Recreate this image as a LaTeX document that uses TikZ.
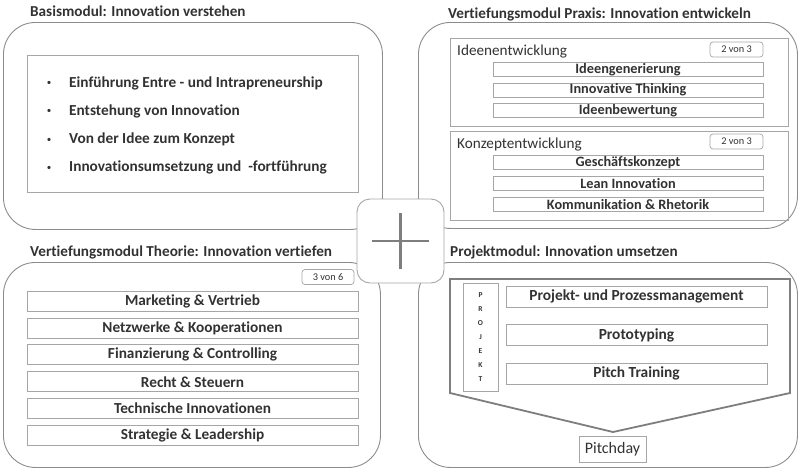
\documentclass[tikz,border=0pt]{standalone}
\usepackage{fontspec}
\setmainfont[Ligatures=NoCommon]{Carlito}
\usetikzlibrary{positioning, calc}
\definecolor{frameGray}{RGB}{140, 140, 140}
\definecolor{boxGray}{RGB}{166, 166, 166}
\definecolor{textGray}{RGB}{50, 50, 50}

\tikzset{
    panel/.style={
        draw=frameGray,
        line width=0.9pt,
        rounded corners=32pt,
        anchor=north west,
        inner sep=0pt
    },
    inner/.style={
        draw=boxGray,
        line width=0.8pt,
        anchor=north west,
        inner sep=0pt
    },
    title/.style={
        anchor=west,
        inner sep=0pt,
        text=textGray,
        font=\fontsize{15.2}{17}\selectfont\bfseries
    },
    bulletText/.style={
        anchor=west,
        inner sep=0pt,
        text=textGray,
        font=\fontsize{15.3}{17}\selectfont\bfseries
    },
    bulletDot/.style={
        inner sep=0pt,
        text=textGray,
        font=\fontsize{9}{10}\selectfont
    },
    groupLabel/.style={
        anchor=west,
        inner sep=0pt,
        text=textGray,
        font=\fontsize{15.2}{17}\selectfont
    },
    tag/.style={
        draw=boxGray,
        line width=0.7pt,
        rounded corners=3pt,
        minimum width=53pt,
        minimum height=15pt,
        inner sep=0pt,
        text=textGray,
        font=\fontsize{10.3}{11}\selectfont
    },
    subItem/.style={
        draw=boxGray,
        line width=0.8pt,
        minimum width=270pt,
        minimum height=14pt,
        inner sep=0pt,
        text=textGray,
        font=\fontsize{14.3}{15}\selectfont\bfseries
    },
    theoryItem/.style={
        draw=boxGray,
        line width=0.8pt,
        minimum width=331pt,
        minimum height=20pt,
        inner sep=0pt,
        text=textGray,
        font=\fontsize{15.3}{16}\selectfont\bfseries
    },
    projectItem/.style={
        draw=boxGray,
        line width=0.8pt,
        minimum width=261pt,
        minimum height=21pt,
        inner sep=0pt,
        text=textGray,
        font=\fontsize{15.4}{16}\selectfont\bfseries
    },
    plusBox/.style={
        draw=boxGray,
        fill=white,
        line width=0.9pt,
        rounded corners=13pt,
        minimum width=87pt,
        minimum height=84pt,
        inner sep=0pt
    },
    plusLine/.style={
        draw=frameGray!90!black,
        line width=2.2pt
    }
}

\begin{document}
\begin{tikzpicture}[x=1pt, y=-1pt]
    \useasboundingbox (0,0) rectangle (800,471);

    % Basismodul
    \node[title] (basisTitle) at (30,11) {Basismodul: Innovation verstehen};
    \node[panel, minimum width=379pt, minimum height=207pt] (basis) at (3,22) {};
    \node[inner, minimum width=331pt, minimum height=137pt] (basisList) at (27,55) {};
    \foreach \txt [count=\i] in {{Einführung Entre - und Intrapreneurship}, {Entstehung von Innovation}, {Von der Idee zum Konzept}, {Innovationsumsetzung und~~-fortführung}} {
        \node[bulletDot] (basisDot\i) at (49, 55.2+28.3*\i) {•};
        \node[bulletText] (basisItem\i) at (69, 54.7+28.3*\i) {\txt};
    }

    % Vertiefungsmodul Praxis
    \node[title] (praxisTitle) at (448,14) {Vertiefungsmodul Praxis: Innovation entwickeln};
    \node[panel, minimum width=379pt, minimum height=206pt] (praxis) at (418,22) {};

    \node[inner, minimum width=338pt, minimum height=88pt] (ideen) at (450,38) {};
    \node[groupLabel] (ideenLabel) at (457,52) {Ideenentwicklung};
    \node[tag] (ideenTag) at (736.5,49.5) {2 von 3};
    \foreach \txt [count=\i] in {Ideengenerierung, Innovative Thinking, Ideenbewertung}
        \node[subItem] (ideenItem\i) at (628, 49.5+20.3*\i) {\txt};

    \node[inner, minimum width=338pt, minimum height=89pt] (konzept) at (450,131) {};
    \node[groupLabel] (konzeptLabel) at (457,145) {Konzeptentwicklung};
    \node[tag] (konzeptTag) at (736.5,141.5) {2 von 3};
    \foreach \txt [count=\i] in {Geschäftskonzept, Lean Innovation, Kommunikation \& Rhetorik}
        \node[subItem] (konzeptItem\i) at (628, 141.5+21*\i) {\txt};

    % Vertiefungsmodul Theorie
    \node[title] (theorieTitle) at (30,252) {Vertiefungsmodul Theorie: Innovation vertiefen};
    \node[panel, minimum width=377pt, minimum height=205pt] (theorie) at (3,262) {};
    \node[tag, minimum width=52pt] (theorieTag) at (328,277) {3 von 6};
    \foreach \txt [count=\i] in {Marketing \& Vertrieb, Netzwerke \& Kooperationen, Finanzierung \& Controlling, Recht \& Steuern, Technische Innovationen, Strategie \& Leadership}
        \node[theoryItem] (theorieItem\i) at (192.5, 274.1+26.9*\i) {\txt};

    % Projektmodul
    \node[title] (projektTitle) at (450,252) {Projektmodul: Innovation umsetzen};
    \node[panel, minimum width=379pt, minimum height=205pt] (projekt) at (418,262) {};
    \draw[draw=frameGray!90!black, line width=1.8pt, line join=miter]
        (450,279) -- (790,279) -- (790,393) -- (613,432) -- (450,393) -- cycle;
    \node[
        draw=boxGray,
        line width=0.8pt,
        minimum width=35pt,
        minimum height=108pt,
        inner sep=0pt,
        align=center,
        text=textGray,
        font=\fontsize{7.5}{14}\selectfont\bfseries
    ] (projektLabel) at (480.5,337) {P\\R\\O\\J\\E\\K\\T};
    \foreach \txt [count=\i] in {Projekt- und Prozessmanagement, Prototyping, Pitch Training}
        \node[projectItem] (projektItem\i) at (636.5, 258+38.5*\i) {\txt};
    \node[
        draw=boxGray,
        line width=0.8pt,
        minimum width=67pt,
        minimum height=26pt,
        inner sep=0pt,
        text=textGray,
        font=\fontsize{16}{17}\selectfont
    ] (pitchday) at (612.5,449) {Pitchday};

    % Plus in der Mitte
    \node[plusBox] (plus) at (400.5,241) {};
    \draw[plusLine] ([xshift=-28.5pt]plus.center) -- ([xshift=28.5pt]plus.center);
    \draw[plusLine] ([yshift=28pt]plus.center) -- ([yshift=-28pt]plus.center);
\end{tikzpicture}
\end{document}
